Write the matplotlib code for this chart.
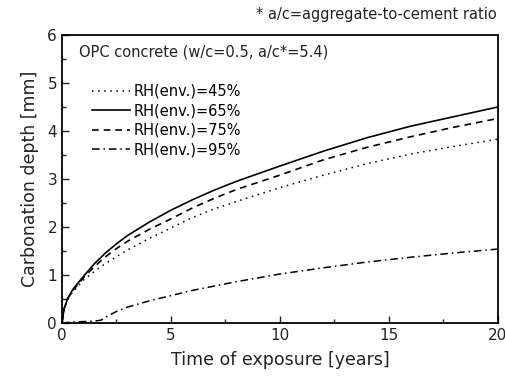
import matplotlib
matplotlib.use("Agg")
import matplotlib.pyplot as plt
from matplotlib.ticker import MultipleLocator

# values
t_years = [0, 0.1, 0.25, 0.5, 1, 1.5, 2, 2.5, 3, 4, 5, 6, 7, 8, 10, 12, 14, 16, 18, 20]
rh45 = [0, 0.28, 0.48, 0.65, 0.90, 1.08, 1.24, 1.38, 1.52, 1.76, 1.98, 2.20, 2.38, 2.53, 2.82, 3.08, 3.32, 3.52, 3.68, 3.83]
rh65 = [0, 0.30, 0.50, 0.70, 0.98, 1.24, 1.46, 1.65, 1.82, 2.10, 2.35, 2.57, 2.77, 2.95, 3.27, 3.58, 3.86, 4.10, 4.30, 4.50]
rh75 = [0, 0.30, 0.50, 0.68, 0.95, 1.18, 1.38, 1.55, 1.70, 1.95, 2.17, 2.40, 2.60, 2.78, 3.08, 3.40, 3.66, 3.88, 4.08, 4.26]

t95 = [0, 0.5, 1, 1.5, 1.8, 2, 2.5, 3, 4, 5, 6, 7, 8, 10, 12, 14, 16, 18, 20]
rh95 = [0, 0.02, 0.03, 0.04, 0.06, 0.12, 0.24, 0.33, 0.46, 0.57, 0.68, 0.77, 0.86, 1.02, 1.15, 1.27, 1.37, 1.46, 1.54]

labels = ["RH(env.)=45%", "RH(env.)=65%", "RH(env.)=75%", "RH(env.)=95%"]

plt.rcParams['font.family'] = ['DejaVu Sans']

fig = plt.figure(figsize=(5.06, 3.83), dpi=100)
ax = fig.add_axes([0.1225, 0.1567, 0.8615, 0.752])

ax.plot(t_years, rh45, color='black', linestyle=(0, (1, 3)), linewidth=1.1, label=labels[0])
ax.plot(t_years, rh65, color='black', linestyle='-', linewidth=1.2, label=labels[1])
ax.plot(t_years, rh75, color='black', linestyle=(0, (4, 3)), linewidth=1.2, label=labels[2])
ax.plot(t95, rh95, color='black', linestyle=(0, (5, 2.5, 1, 2.5)), linewidth=1.1, label=labels[3])

ax.set_xlim(0, 20)
ax.set_ylim(0, 6)
ax.xaxis.set_major_locator(MultipleLocator(5))
ax.xaxis.set_minor_locator(MultipleLocator(2.5))
ax.yaxis.set_major_locator(MultipleLocator(1))
ax.yaxis.set_minor_locator(MultipleLocator(0.5))
ax.tick_params(which='both', direction='in', labelsize=11, colors='#222222')
ax.tick_params(which='major', length=5, width=1)
ax.tick_params(which='minor', length=3, width=1)
for s in ax.spines.values():
    s.set_linewidth(1.3)

ax.set_xlabel("Time of exposure [years]", fontsize=12.5, color='#222222', labelpad=6)
ax.set_ylabel("Carbonation depth [mm]", fontsize=12.5, color='#222222', labelpad=6)

ax.text(0.04, 0.94, "OPC concrete (w/c=0.5, a/c*=5.4)", transform=ax.transAxes,
        fontsize=10.5, ha='left', va='center', color='#222222')
fig.text(0.982, 0.963, "* a/c=aggregate-to-cement ratio", fontsize=10.5,
         ha='right', va='center', color='#222222')

ax.legend(loc='upper left', bbox_to_anchor=(0.068, 0.83), frameon=False,
          fontsize=10.5, handlelength=2.6, handletextpad=0.25, labelspacing=0.3,
          borderaxespad=0, borderpad=0)

fig.savefig("out.png", dpi=100)
